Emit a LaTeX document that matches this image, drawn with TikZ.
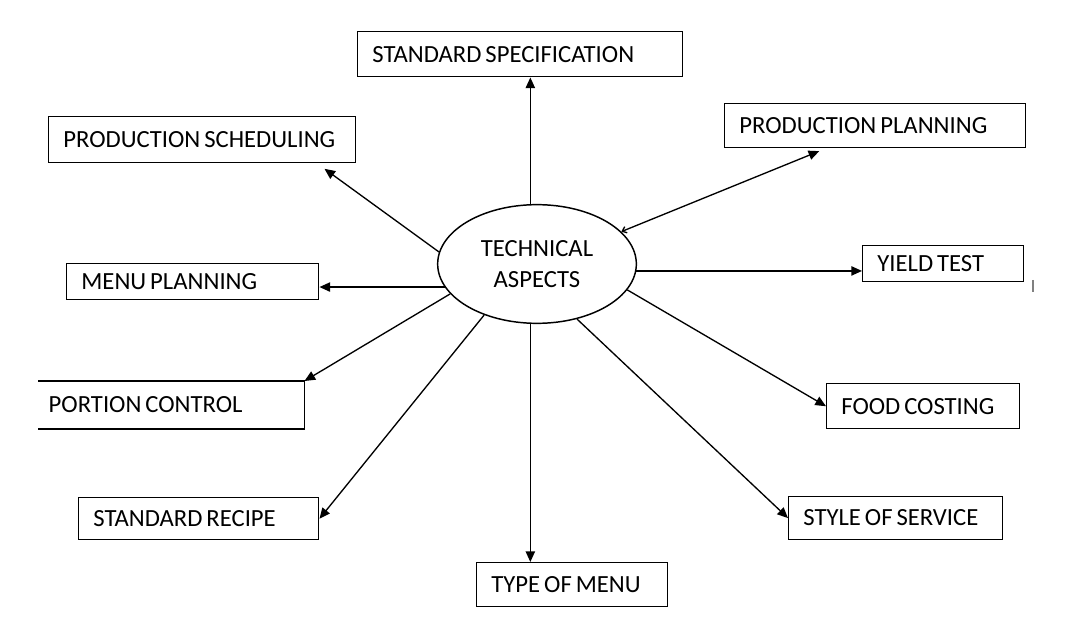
\documentclass[tikz,border=0pt]{standalone}
\usepackage{fontspec}
\setmainfont{Carlito}
\usetikzlibrary{arrows.meta, shapes.geometric}
\newcommand{\boxfont}{\fontsize{18.5}{21}\selectfont\spaceskip=0.16em\relax}

\tikzset{
  tbox/.style={draw, line width=1.1pt, anchor=north west, align=flush left, inner xsep=11pt, inner ysep=0pt, font=\boxfont},
  link/.style={line width=1pt, -{Triangle[length=8pt,width=7pt]}},
}

\begin{document}
\begin{tikzpicture}[x=0.75pt, y=-0.75pt]
        \useasboundingbox (0,0) rectangle (1069,634);
        \node[draw, ellipse, line width=1.1pt, minimum width=149pt, minimum height=89pt, align=center, font=\fontsize{18.5}{23}\selectfont] (tech) at (537,264) {TECHNICAL\\ASPECTS};
        \node[tbox, text width=221.75pt, minimum height=33.75pt] (spec) at (357,31) {STANDARD SPECIFICATION};
        \node[tbox, text width=208.25pt, minimum height=34.5pt] (sched) at (48,116) {PRODUCTION SCHEDULING};
        \node[tbox, text width=203.75pt, minimum height=33pt] (pplan) at (724,103) {PRODUCTION PLANNING};
        \node[tbox, text width=167pt, minimum height=27pt] (menu) at (66,263) {MENU PLANNING};
        \node[tbox, text width=98.75pt, minimum height=27pt] (yield) at (862,245) {YIELD TEST};
        \node[tbox, draw=none, inner xsep=7.5pt, text width=183.75pt, minimum height=35pt] (portion) at (38,381) {PORTION CONTROL};
        \draw[line width=1.1pt] (portion.north west) -- (portion.north east) -- (portion.south east) -- (portion.south west);
        \node[tbox, text width=122.75pt, minimum height=33.75pt] (food) at (826,383) {FOOD COSTING};
        \node[tbox, text width=158pt, minimum height=31.5pt] (recipe) at (78,497) {STANDARD RECIPE};
        \node[tbox, text width=138.5pt, minimum height=32pt] (style) at (788,496) {STYLE OF SERVICE};
        \node[tbox, text width=121.25pt, minimum height=33pt] (type) at (476,562) {TYPE OF MENU};

        % arrows out of the ellipse
        \draw[link] ([xshift=-5pt]tech.north) -- ([xshift=-5pt]tech.north |- spec.south);
        \draw[link] (tech.173) -- ([xshift=-24pt, yshift=-4pt]sched.south east);
        \draw[{Straight Barb[length=3pt,width=5pt]}-{Triangle[length=8pt,width=7pt]}, line width=1pt] (tech.21) -- ([xshift=-42pt, yshift=-2pt]pplan.south);
        \draw[link] (tech.194) -- (tech.194 -| menu.east);
        \draw[link] (tech.199) -- (portion.north east);
        \draw[link] (tech.224) -- (recipe.east);
        \draw[link] ([xshift=-5pt]tech.south) -- ([xshift=-5pt]tech.south |- type.north);
        \draw[link] (tech.306) -- (style.west);
        \draw[link] (tech.344) -- (food.west);
        \draw[link] (tech.356) -- (tech.356 -| yield.west);

        \draw[gray, line width=1pt] (1033,280) -- (1033,292);
\end{tikzpicture}
\end{document}
